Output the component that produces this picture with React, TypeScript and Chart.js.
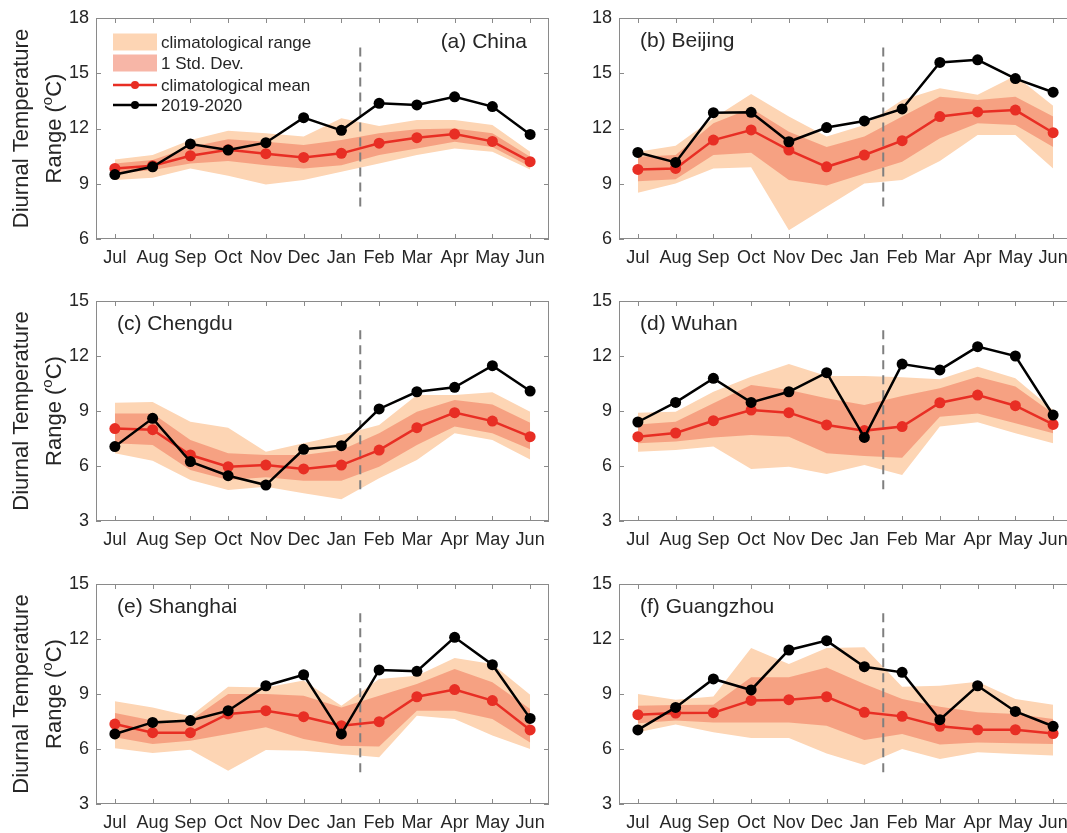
import React, { useEffect, useRef } from "react";
import { Chart, registerables } from "chart.js";

Chart.register(...registerables);

// ---------------- data ----------------
const MONTHS = ["Jul", "Aug", "Sep", "Oct", "Nov", "Dec", "Jan", "Feb", "Mar", "Apr", "May", "Jun"];

const CHINA_RANGE_MAX = [10.32, 10.56, 11.37, 11.88, 11.74, 11.56, 12.55, 12.14, 12.46, 12.46, 12.19, 10.74];
const CHINA_STD_MAX = [10.1, 10.29, 11.0, 11.41, 11.28, 11.1, 11.37, 11.74, 11.96, 12.0, 11.74, 10.47];
const CHINA_STD_MIN = [9.56, 9.74, 10.1, 10.23, 10.0, 9.83, 10.0, 10.56, 10.92, 11.28, 11.0, 9.92];
const CHINA_RANGE_MIN = [9.2, 9.32, 9.83, 9.43, 8.96, 9.2, 9.65, 10.1, 10.56, 10.92, 10.74, 9.78];
const CHINA_MEAN = [9.83, 9.98, 10.52, 10.85, 10.63, 10.43, 10.65, 11.2, 11.5, 11.7, 11.3, 10.2];
const CHINA_OBS = [9.5, 9.92, 11.16, 10.83, 11.23, 12.59, 11.9, 13.37, 13.28, 13.72, 13.19, 11.68];

const BEIJING_RANGE_MAX = [10.74, 11.07, 12.55, 13.88, 12.65, 11.56, 12.19, 13.55, 14.19, 13.83, 14.86, 13.24];
const BEIJING_STD_MAX = [10.47, 10.56, 12.28, 13.1, 11.83, 11.0, 11.56, 12.65, 13.73, 13.55, 13.73, 12.65];
const BEIJING_STD_MIN = [9.14, 9.25, 10.56, 10.68, 9.2, 8.9, 9.56, 10.2, 11.47, 12.28, 12.19, 11.0];
const BEIJING_RANGE_MIN = [8.51, 9.02, 9.83, 9.89, 6.47, 7.75, 9.02, 9.2, 10.23, 11.65, 11.65, 9.83];
const BEIJING_MEAN = [9.78, 9.83, 11.37, 11.92, 10.83, 9.92, 10.56, 11.34, 12.65, 12.9, 13.0, 11.77];
const BEIJING_OBS = [10.7, 10.16, 12.86, 12.88, 11.28, 12.05, 12.41, 13.06, 15.59, 15.73, 14.71, 13.97];

const CHENGDU_RANGE_MAX = [9.45, 9.49, 8.42, 8.09, 6.78, 7.24, 7.69, 8.24, 9.87, 9.87, 10.02, 8.96];
const CHENGDU_STD_MAX = [8.87, 8.87, 7.42, 6.69, 6.6, 6.6, 6.87, 7.78, 8.96, 9.6, 9.36, 8.36];
const CHENGDU_STD_MIN = [7.24, 7.15, 5.78, 5.24, 5.38, 5.2, 5.2, 5.96, 7.15, 8.15, 7.78, 6.91];
const CHENGDU_RANGE_MIN = [6.69, 6.29, 5.24, 4.69, 4.87, 4.51, 4.18, 5.33, 6.33, 7.78, 7.42, 6.36];
const CHENGDU_MEAN = [8.04, 7.98, 6.6, 5.96, 6.05, 5.84, 6.05, 6.87, 8.09, 8.91, 8.45, 7.6];
const CHENGDU_OBS = [7.06, 8.6, 6.24, 5.47, 4.96, 6.91, 7.11, 9.11, 10.05, 10.29, 11.47, 10.09];

const WUHAN_RANGE_MAX = [8.91, 8.96, 10.05, 10.87, 11.56, 10.91, 10.91, 10.84, 10.73, 11.42, 10.78, 9.05];
const WUHAN_STD_MAX = [8.27, 8.42, 9.42, 10.42, 10.15, 9.69, 9.33, 9.82, 10.24, 10.87, 10.33, 8.87];
const WUHAN_STD_MIN = [7.24, 7.33, 7.55, 7.69, 7.6, 6.69, 6.55, 6.45, 8.69, 8.87, 8.33, 7.78];
const WUHAN_RANGE_MIN = [6.78, 6.87, 7.06, 5.84, 5.96, 5.56, 6.05, 5.51, 8.15, 8.38, 7.78, 7.24];
const WUHAN_MEAN = [7.6, 7.8, 8.47, 9.05, 8.91, 8.24, 7.93, 8.15, 9.45, 9.87, 9.29, 8.27];
const WUHAN_OBS = [8.4, 9.47, 10.78, 9.47, 10.05, 11.09, 7.56, 11.56, 11.24, 12.51, 12.0, 8.78];

const SHANGHAI_RANGE_MAX = [8.6, 8.27, 7.78, 9.4, 9.36, 9.73, 8.36, 9.82, 10.0, 10.96, 10.64, 8.96];
const SHANGHAI_STD_MAX = [7.96, 7.55, 7.55, 9.0, 9.0, 8.91, 8.27, 8.91, 9.55, 10.36, 9.64, 8.18];
const SHANGHAI_STD_MIN = [6.64, 6.27, 6.45, 6.82, 7.18, 6.55, 6.18, 6.13, 8.09, 8.09, 7.64, 6.36];
const SHANGHAI_RANGE_MIN = [6.04, 5.78, 5.96, 4.82, 5.95, 5.91, 5.73, 5.55, 7.82, 7.64, 6.73, 6.0];
const SHANGHAI_MEAN = [7.36, 6.89, 6.89, 7.91, 8.09, 7.76, 7.27, 7.49, 8.85, 9.24, 8.64, 7.04];
const SHANGHAI_OBS = [6.82, 7.45, 7.55, 8.09, 9.45, 10.05, 6.82, 10.31, 10.24, 12.09, 10.6, 7.67];

const GUANGZHOU_RANGE_MAX = [9.0, 8.69, 8.87, 11.51, 10.64, 11.51, 11.55, 9.4, 9.45, 9.67, 8.73, 8.42];
const GUANGZHOU_STD_MAX = [8.36, 8.4, 8.42, 9.91, 9.91, 10.45, 9.55, 8.73, 8.31, 8.0, 7.91, 7.64];
const GUANGZHOU_STD_MIN = [7.4, 7.55, 7.45, 7.45, 7.45, 7.27, 6.49, 6.82, 6.24, 6.36, 6.31, 6.27];
const GUANGZHOU_RANGE_MIN = [6.91, 7.33, 6.91, 6.6, 6.6, 5.76, 5.13, 6.0, 5.45, 5.82, 5.73, 5.64];
const GUANGZHOU_MEAN = [7.87, 7.96, 7.98, 8.65, 8.69, 8.85, 8.0, 7.78, 7.24, 7.05, 7.05, 6.84];
const GUANGZHOU_OBS = [7.04, 8.27, 9.82, 9.22, 11.4, 11.91, 10.49, 10.18, 7.6, 9.45, 8.05, 7.24];

const Y_TICKS_TOP = [6, 18];
const Y_TICKS_LOWER = [3, 15];
const Y_STEP = 3;
const DIVIDER_X = 6.5; // between Jan and Feb
const DIVIDER_Y_TOP = [7.5, 16.4];
const DIVIDER_Y_LOWER = [4.5, 13.4];

const LEGEND_LABELS = ["climatological range", "1 Std. Dev.", "climatological mean", "2019-2020"];
const Y_TITLE_LINE1 = "Diurnal Temperature";
const Y_TITLE_LINE2 = ["Range (", "o", "C)"];

// ---------------- styles ----------------
const FONT = '"Liberation Sans", Arial, Helvetica, sans-serif';
const TEXT = "#262626";
const RANGE_FILL = "rgb(253,213,180)";
const STD_FILL = "rgba(239,110,80,0.5)";
const MEAN_COLOR = "rgb(232,46,36)";
const OBS_COLOR = "#000000";
const BOX_COLOR = "#8a8a8a";
const DIVIDER_COLOR = "#7f7f7f";

const COLS = [
  { left: 0, width: 560, axisW: 96, padRight: 11 },
  { left: 560, width: 520, axisW: 59, padRight: 8 },
];
const ROWS = [
  { top: 0, height: 275, padTop: 18, axisH: 36 },
  { top: 275, height: 280, padTop: 26, axisH: 34 },
  { top: 555, height: 278, padTop: 29, axisH: 29 },
];

type PanelSpec = {
  label: string;
  labelAlign: "left" | "right";
  rangeMax: number[];
  stdMax: number[];
  stdMin: number[];
  rangeMin: number[];
  mean: number[];
  obs: number[];
  yLim: number[];
  divider: number[];
  legend: boolean;
  yTitle: boolean;
  col: number;
  row: number;
};

const PANELS: PanelSpec[] = [
  { label: "(a) China", labelAlign: "right", rangeMax: CHINA_RANGE_MAX, stdMax: CHINA_STD_MAX, stdMin: CHINA_STD_MIN, rangeMin: CHINA_RANGE_MIN, mean: CHINA_MEAN, obs: CHINA_OBS, yLim: Y_TICKS_TOP, divider: DIVIDER_Y_TOP, legend: true, yTitle: true, col: 0, row: 0 },
  { label: "(b) Beijing", labelAlign: "left", rangeMax: BEIJING_RANGE_MAX, stdMax: BEIJING_STD_MAX, stdMin: BEIJING_STD_MIN, rangeMin: BEIJING_RANGE_MIN, mean: BEIJING_MEAN, obs: BEIJING_OBS, yLim: Y_TICKS_TOP, divider: DIVIDER_Y_TOP, legend: false, yTitle: false, col: 1, row: 0 },
  { label: "(c) Chengdu", labelAlign: "left", rangeMax: CHENGDU_RANGE_MAX, stdMax: CHENGDU_STD_MAX, stdMin: CHENGDU_STD_MIN, rangeMin: CHENGDU_RANGE_MIN, mean: CHENGDU_MEAN, obs: CHENGDU_OBS, yLim: Y_TICKS_LOWER, divider: DIVIDER_Y_LOWER, legend: false, yTitle: true, col: 0, row: 1 },
  { label: "(d) Wuhan", labelAlign: "left", rangeMax: WUHAN_RANGE_MAX, stdMax: WUHAN_STD_MAX, stdMin: WUHAN_STD_MIN, rangeMin: WUHAN_RANGE_MIN, mean: WUHAN_MEAN, obs: WUHAN_OBS, yLim: Y_TICKS_LOWER, divider: DIVIDER_Y_LOWER, legend: false, yTitle: false, col: 1, row: 1 },
  { label: "(e) Shanghai", labelAlign: "left", rangeMax: SHANGHAI_RANGE_MAX, stdMax: SHANGHAI_STD_MAX, stdMin: SHANGHAI_STD_MIN, rangeMin: SHANGHAI_RANGE_MIN, mean: SHANGHAI_MEAN, obs: SHANGHAI_OBS, yLim: Y_TICKS_LOWER, divider: DIVIDER_Y_LOWER, legend: false, yTitle: true, col: 0, row: 2 },
  { label: "(f) Guangzhou", labelAlign: "left", rangeMax: GUANGZHOU_RANGE_MAX, stdMax: GUANGZHOU_STD_MAX, stdMin: GUANGZHOU_STD_MIN, rangeMin: GUANGZHOU_RANGE_MIN, mean: GUANGZHOU_MEAN, obs: GUANGZHOU_OBS, yLim: Y_TICKS_LOWER, divider: DIVIDER_Y_LOWER, legend: false, yTitle: false, col: 1, row: 2 },
];

function Panel({ spec }: { spec: PanelSpec }) {
  const ref = useRef<HTMLCanvasElement | null>(null);
  const col = COLS[spec.col];
  const row = ROWS[spec.row];

  useEffect(() => {
    if (!ref.current) return;

    const decorPlugin = {
      id: "decor",
      beforeDatasetDraw(chart: any, args: any) {
        if (args.index !== 1) return;
        const { ctx, scales } = chart;
        const x = scales.x.getPixelForValue(DIVIDER_X);
        ctx.save();
        ctx.strokeStyle = DIVIDER_COLOR;
        ctx.lineWidth = 2;
        ctx.setLineDash([9, 6]);
        ctx.beginPath();
        ctx.moveTo(x, scales.y.getPixelForValue(spec.divider[1]));
        ctx.lineTo(x, scales.y.getPixelForValue(spec.divider[0]));
        ctx.stroke();
        ctx.restore();
      },
      afterDraw(chart: any) {
        const { ctx, chartArea: a, scales } = chart;
        ctx.save();
        // box
        ctx.strokeStyle = BOX_COLOR;
        ctx.lineWidth = 1;
        ctx.strokeRect(Math.round(a.left) + 0.5, Math.round(a.top) + 0.5, Math.round(a.width) - 1, Math.round(a.height) - 1);
        // inward ticks
        ctx.beginPath();
        for (let i = 0; i < MONTHS.length; i++) {
          const px = Math.round(scales.x.getPixelForValue(i)) + 0.5;
          ctx.moveTo(px, a.bottom);
          ctx.lineTo(px, a.bottom - 5);
          ctx.moveTo(px, a.top);
          ctx.lineTo(px, a.top + 5);
        }
        scales.y.ticks.forEach((t: any) => {
          const py = Math.round(scales.y.getPixelForValue(t.value)) + 0.5;
          ctx.moveTo(a.left, py);
          ctx.lineTo(a.left + 5, py);
          ctx.moveTo(a.right, py);
          ctx.lineTo(a.right - 5, py);
        });
        ctx.stroke();

        // panel label
        ctx.fillStyle = TEXT;
        ctx.font = `21px ${FONT}`;
        ctx.textBaseline = "middle";
        if (spec.labelAlign === "right") {
          ctx.textAlign = "right";
          ctx.fillText(spec.label, a.right - 22, a.top + 24);
        } else {
          ctx.textAlign = "left";
          ctx.fillText(spec.label, a.left + 21, a.top + 23);
        }

        // legend
        if (spec.legend) {
          const x0 = a.left + 17;
          const w = 44;
          const tx = a.left + 65;
          const ys = [a.top + 24, a.top + 45, a.top + 67, a.top + 87];
          ctx.fillStyle = RANGE_FILL;
          ctx.fillRect(x0, ys[0] - 8.5, w, 17);
          ctx.fillStyle = STD_FILL;
          ctx.fillRect(x0, ys[1] - 8.5, w, 17);
          const lineItem = (y: number, color: string) => {
            ctx.strokeStyle = color;
            ctx.lineWidth = 2.5;
            ctx.beginPath();
            ctx.moveTo(x0, y);
            ctx.lineTo(x0 + w, y);
            ctx.stroke();
            ctx.fillStyle = color;
            ctx.beginPath();
            ctx.arc(x0 + w / 2, y, 4, 0, Math.PI * 2);
            ctx.fill();
          };
          lineItem(ys[2], MEAN_COLOR);
          lineItem(ys[3], OBS_COLOR);
          ctx.fillStyle = TEXT;
          ctx.font = `17px ${FONT}`;
          ctx.textAlign = "left";
          ctx.textBaseline = "middle";
          LEGEND_LABELS.forEach((t, i) => ctx.fillText(t, tx, ys[i] + 1));
        }

        // y-axis title
        if (spec.yTitle) {
          const cy = (a.top + a.bottom) / 2;
          ctx.fillStyle = TEXT;
          ctx.textBaseline = "alphabetic";
          ctx.save();
          ctx.translate(28, cy);
          ctx.rotate(-Math.PI / 2);
          ctx.font = `22px ${FONT}`;
          ctx.textAlign = "center";
          ctx.fillText(Y_TITLE_LINE1, 0, 0);
          ctx.restore();

          ctx.save();
          ctx.translate(61, cy);
          ctx.rotate(-Math.PI / 2);
          ctx.textAlign = "left";
          const big = `22px ${FONT}`;
          const small = `15px ${FONT}`;
          ctx.font = big;
          const w1 = ctx.measureText(Y_TITLE_LINE2[0]).width;
          const w3 = ctx.measureText(Y_TITLE_LINE2[2]).width;
          ctx.font = small;
          const w2 = ctx.measureText(Y_TITLE_LINE2[1]).width;
          let x = -(w1 + w2 + w3) / 2;
          ctx.font = big;
          ctx.fillText(Y_TITLE_LINE2[0], x, 0);
          x += w1;
          ctx.font = small;
          ctx.fillText(Y_TITLE_LINE2[1], x, -9);
          x += w2;
          ctx.font = big;
          ctx.fillText(Y_TITLE_LINE2[2], x, 0);
          ctx.restore();
        }
        ctx.restore();
      },
    };

    const band = (data: number[], fill: any, color: string) => ({
      data,
      borderWidth: 0,
      borderColor: "rgba(0,0,0,0)",
      backgroundColor: color,
      pointRadius: 0,
      fill,
      tension: 0,
    });

    const chart = new Chart(ref.current, {
      type: "line",
      data: {
        labels: MONTHS,
        datasets: [
          {
            data: spec.obs,
            borderColor: OBS_COLOR,
            backgroundColor: OBS_COLOR,
            borderWidth: 2.5,
            pointRadius: 5.5,
            pointBorderWidth: 0,
            pointBackgroundColor: OBS_COLOR,
            fill: false,
            tension: 0,
          },
          {
            data: spec.mean,
            borderColor: MEAN_COLOR,
            backgroundColor: MEAN_COLOR,
            borderWidth: 2.5,
            pointRadius: 5.5,
            pointBorderWidth: 0,
            pointBackgroundColor: MEAN_COLOR,
            fill: false,
            tension: 0,
          },
          band(spec.stdMax, "+1", STD_FILL),
          band(spec.stdMin, false, STD_FILL),
          band(spec.rangeMax, "+1", RANGE_FILL),
          band(spec.rangeMin, false, RANGE_FILL),
        ],
      },
      options: {
        animation: false,
        responsive: false,
        maintainAspectRatio: false,
        events: [],
        layout: { padding: { left: 0, top: row.padTop, right: col.padRight, bottom: 0 } },
        plugins: {
          legend: { display: false },
          tooltip: { enabled: false },
          title: { display: false },
        },
        scales: {
          x: {
            type: "category",
            offset: true,
            grid: { display: false, drawTicks: false },
            border: { display: false },
            ticks: {
              color: TEXT,
              font: { family: FONT, size: 18 },
              padding: 8,
              autoSkip: false,
              maxRotation: 0,
              minRotation: 0,
            },
            afterFit: (s: any) => {
              s.height = row.axisH;
            },
          },
          y: {
            min: spec.yLim[0],
            max: spec.yLim[1],
            grid: { display: false, drawTicks: false },
            border: { display: false },
            ticks: {
              stepSize: Y_STEP,
              color: TEXT,
              font: { family: FONT, size: 18 },
              padding: 7,
            },
            afterFit: (s: any) => {
              s.width = col.axisW;
            },
          },
        },
      } as any,
      plugins: [decorPlugin],
    });
    return () => chart.destroy();
  }, [spec]);

  return (
    <canvas
      ref={ref}
      width={col.width}
      height={row.height}
      style={{ position: "absolute", left: col.left, top: row.top, width: col.width, height: row.height }}
    />
  );
}

export default function App() {
  return (
    <div
      style={{
        position: "absolute",
        left: 0,
        top: 0,
        width: 1067,
        height: 833,
        overflow: "hidden",
        background: "#ffffff",
      }}
    >
      {PANELS.map((p) => (
        <Panel key={p.label} spec={p} />
      ))}
    </div>
  );
}
